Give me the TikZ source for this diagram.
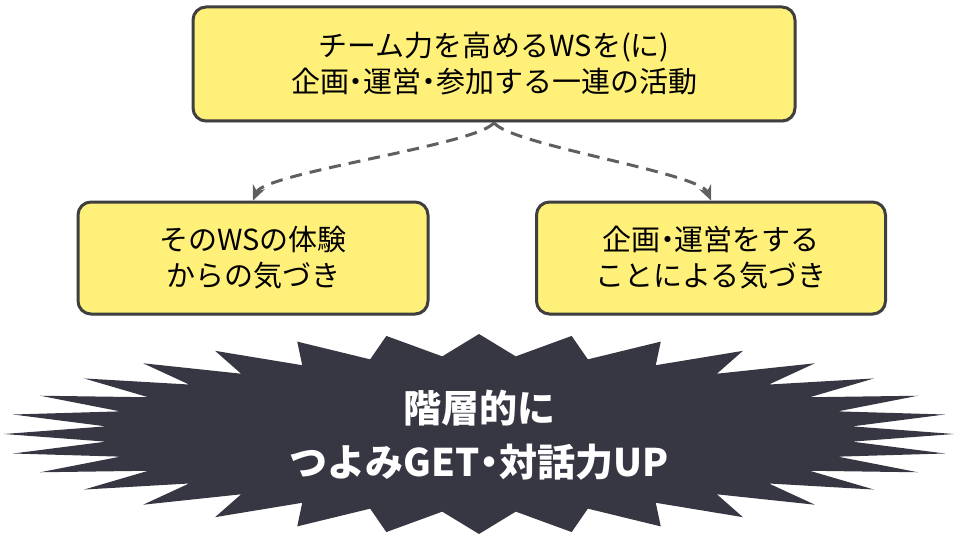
\documentclass[tikz,border=0pt]{standalone}
\usepackage{fontspec}
\newfontfamily\jpfont{Noto Sans CJK JP}
\usetikzlibrary{arrows.meta,shadows}
\definecolor{NoteYellow}{HTML}{FFF07A}
\definecolor{NoteEdge}{HTML}{3F3F3F}
\definecolor{LinkGray}{HTML}{5F5F5F}
\definecolor{BurstNavy}{HTML}{363743}
\newcommand{\hdot}{\makebox[0.5em]{・}}

\begin{document}
\begin{tikzpicture}[x=1pt, y=-1pt,
          note/.style={rectangle, rounded corners=13pt, draw=NoteEdge, line width=3pt, fill=NoteYellow, align=center, font=\jpfont\fontsize{29}{36}\selectfont, drop shadow={shadow xshift=1pt, shadow yshift=-2pt, opacity=0.2}},
          link/.style={draw=LinkGray, line width=3pt, dash pattern=on 12pt off 8pt, -{Stealth[length=15pt, width=13pt, inset=5pt]}}
        ]
          \useasboundingbox (0,0) rectangle (960,540);
          \node[note, minimum width=602pt, minimum height=114pt] (activity) at (494,64) {チーム力を高めるWSを(に)\\企画\hdot 運営\hdot 参加する一連の活動};
          \node[note, minimum width=350pt, minimum height=112pt] (wsexp) at (253,258) {そのWSの体験\\からの気づき};
          \node[note, minimum width=349pt, minimum height=112pt] (runexp) at (711,258) {企画\hdot 運営をする\\ことによる気づき};
          \draw[link] (activity.south) .. controls +(-14,22) and +(12,-28) .. (wsexp.north);
          \draw[link] (activity.south) .. controls +(14,22) and +(-12,-28) .. (runexp.north);
          % starburst
          \fill[BurstNavy] (954,434) \foreach \k in {0,...,31} { -- ({479+375*cos(\k*11.25+5.625)},{434+78*sin(\k*11.25+5.625)}) -- ({479+475*cos(\k*11.25+11.25)},{434+100*sin(\k*11.25+11.25)}) } -- cycle;
          \node[font=\jpfont\bfseries\fontsize{38}{54}\selectfont, text=white, align=center] (result) at (479,435) {階層的に\\つよみGET\hdot 対話力UP};
        \end{tikzpicture}
\end{document}
